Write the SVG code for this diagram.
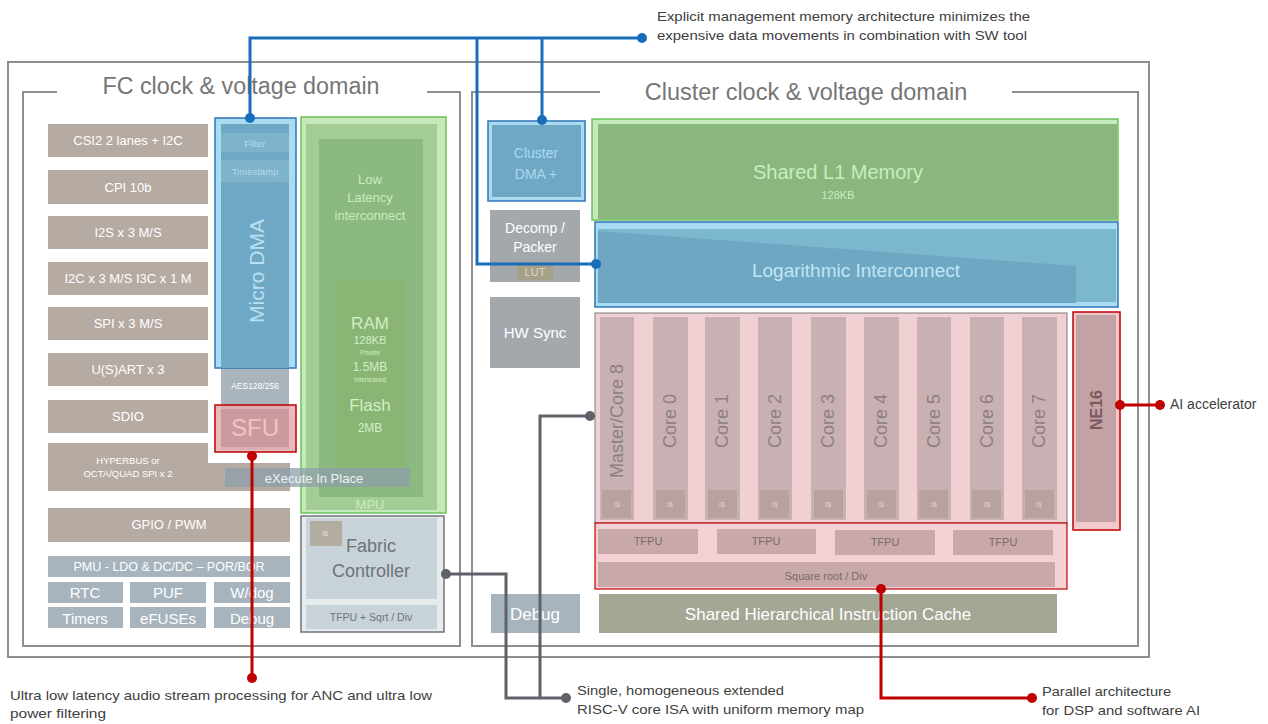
<svg xmlns="http://www.w3.org/2000/svg" width="1268" height="724" viewBox="0 0 1268 724">
<style>
text{font-family:"Liberation Sans",Arial,sans-serif}
.frame{fill:none;stroke:#8f8f8f;stroke-width:2}
.per{fill:#b5aba3}
.bg{fill:#a7b4be}
.gb{fill:#a3a8ad}
.wt{fill:#ffffff;text-anchor:middle}
.ann{fill:#404040;font-size:13px}
.core{fill:#c9b1b3}
.ic{fill:#b9a19f}
.ict{fill:#e6d2d3;font-size:7px;text-anchor:middle}
.cl{fill:#8c8081;font-size:18px;text-anchor:middle}
.tf{fill:#c9a8aa}
.tft{fill:#7a6a6b;font-size:11px;text-anchor:middle}
.bl{fill:none;stroke:#1a6dba;stroke-width:3}
.gr{fill:none;stroke:#5f6369;stroke-width:3}
.rd{fill:none;stroke:#c00000;stroke-width:3}
</style>
<rect width="1268" height="724" fill="#ffffff"/>
<rect class="frame" x="8" y="62" width="1141" height="595"/>
<g id="fc-domain">
<path class="frame" d="M57,92 H23 V646 H460 V92 H427"/>
<text x="241" y="94" font-size="23.3" fill="#767676" text-anchor="middle">FC clock &amp; voltage domain</text>
</g>
<g id="cluster-domain">
<path class="frame" d="M600,92 H472 V646 H1138 V92 H1012"/>
<text x="806" y="100" font-size="23.5" fill="#767676" text-anchor="middle">Cluster clock &amp; voltage domain</text>
</g>
<g id="peripherals" font-size="13">
<g id="csi2"><rect class="per" x="48" y="124" width="160" height="33"/><text class="wt" x="128" y="145">CSI2 2 lanes + I2C</text></g>
<g id="cpi"><rect class="per" x="48" y="170" width="160" height="34"/><text class="wt" x="128" y="192">CPI 10b</text></g>
<g id="i2s"><rect class="per" x="48" y="216" width="160" height="33"/><text class="wt" x="128" y="237">I2S x 3 M/S</text></g>
<g id="i2c"><rect class="per" x="48" y="262" width="160" height="33"/><text class="wt" x="128" y="283">I2C x 3 M/S I3C x 1 M</text></g>
<g id="spi"><rect class="per" x="48" y="307" width="160" height="33"/><text class="wt" x="128" y="328">SPI x 3 M/S</text></g>
<g id="usart"><rect class="per" x="48" y="353" width="160" height="33"/><text class="wt" x="128" y="374">U(S)ART x 3</text></g>
<g id="sdio"><rect class="per" x="48" y="400" width="160" height="33"/><text class="wt" x="128" y="421">SDIO</text></g>
<g id="hyperbus"><polygon class="per" points="48,443 208,443 208,463 290,463 290,491 48,491"/><text class="wt" x="128" y="464" font-size="9.5">HYPERBUS or</text><text class="wt" x="128" y="477" font-size="9.5">OCTA/QUAD SPI x 2</text></g>
<g id="gpio"><rect class="per" x="48" y="508" width="242" height="34"/><text class="wt" x="169" y="529">GPIO / PWM</text></g>
<g id="pmu"><rect class="bg" x="48" y="556" width="242" height="21"/><text class="wt" x="169" y="571" font-size="12.5">PMU - LDO &amp; DC/DC – POR/BOR</text></g>
<g id="rtc"><rect class="bg" x="48" y="582" width="75" height="21"/><text class="wt" x="85" y="598" font-size="15">RTC</text></g>
<g id="puf"><rect class="bg" x="130" y="582" width="76" height="21"/><text class="wt" x="168" y="598" font-size="15">PUF</text></g>
<g id="wdog"><rect class="bg" x="214" y="582" width="76" height="21"/><text class="wt" x="252" y="598" font-size="15">W/dog</text></g>
<g id="timers"><rect class="bg" x="48" y="607" width="75" height="21"/><text class="wt" x="85" y="624" font-size="15">Timers</text></g>
<g id="efuses"><rect class="bg" x="130" y="607" width="76" height="21"/><text class="wt" x="168" y="624" font-size="15">eFUSEs</text></g>
<g id="debug-fc"><rect class="bg" x="214" y="607" width="76" height="21"/><text class="wt" x="252" y="624" font-size="15">Debug</text></g>
</g>
<g id="aes"><rect x="221" y="368" width="68" height="82" fill="#a9b4bd"/><text class="wt" x="255" y="389" font-size="8.5" fill="#eef2f5">AES128/256</text></g>
<g id="micro-dma">
<rect x="215" y="118" width="81" height="250" fill="#a9dcf2" stroke="#2e75b6" stroke-width="1.5"/>
<rect x="221" y="124" width="68" height="244" fill="#6fa8c4"/>
<rect x="221" y="133" width="68" height="19" fill="#7eb3cc"/>
<text x="255" y="147" font-size="9.5" fill="#b3d9ec" text-anchor="middle">Filter</text>
<rect x="221" y="160" width="68" height="22" fill="#7eb3cc"/>
<text x="255" y="175" font-size="9.5" fill="#b3d9ec" text-anchor="middle">Timestamp</text>
<text transform="translate(264,271) rotate(-90)" font-size="21" fill="#b8e0f2" text-anchor="middle">Micro DMA</text>
</g>
<g id="sfu">
<rect x="215" y="405" width="81" height="47" fill="#e4aeb1" fill-opacity="0.85" stroke="#c00000" stroke-width="1.5"/>
<rect x="221" y="409" width="68" height="38" fill="#c99b9e"/>
<text x="255" y="436" font-size="24" fill="#f1c3c6" text-anchor="middle">SFU</text>
</g>
<g id="low-latency-interconnect">
<rect x="301" y="117" width="145" height="396" fill="#c6e9bb" stroke="#6cc05e" stroke-width="1.5"/>
<rect x="306" y="124" width="131" height="386" fill="#a4cd95"/>
<rect x="319" y="139" width="104" height="358" fill="#8cb97f"/>
<text x="370" y="184" font-size="13" fill="#c9ecbf" text-anchor="middle">Low</text>
<text x="370" y="202" font-size="13" fill="#c9ecbf" text-anchor="middle">Latency</text>
<text x="370" y="220" font-size="13" fill="#c9ecbf" text-anchor="middle">interconnect</text>
<text x="370" y="509" font-size="13" fill="#c9ecbf" text-anchor="middle">MPU</text>
</g>
<g id="ram-flash">
<rect x="335" y="280" width="70" height="187" fill="#8ab574"/>
<text x="370" y="329" font-size="17" fill="#d0efc6" text-anchor="middle">RAM</text>
<text x="370" y="344" font-size="11" fill="#d0efc6" text-anchor="middle">128KB</text>
<text x="370" y="355" font-size="6.5" fill="#d0efc6" text-anchor="middle">Private</text>
<text x="370" y="371" font-size="12" fill="#d0efc6" text-anchor="middle">1.5MB</text>
<text x="370" y="382" font-size="6.5" fill="#d0efc6" text-anchor="middle">Interleaved</text>
<text x="370" y="411" font-size="17" fill="#d0efc6" text-anchor="middle">Flash</text>
<text x="370" y="432" font-size="12" fill="#d0efc6" text-anchor="middle">2MB</text>
</g>
<g id="xip">
<rect x="225" y="468" width="185" height="19" fill="#8e9faa" fill-opacity="0.75"/>
<text x="314" y="483" font-size="13" fill="#eef2f5" text-anchor="middle">eXecute In Place</text>
</g>
<g id="fabric-controller">
<rect x="301" y="516" width="143" height="116" fill="#e6ebee" stroke="#6f7479" stroke-width="1.5"/>
<rect x="306" y="518" width="131" height="81" fill="#c8d3d9"/>
<rect x="310" y="521" width="32" height="25" fill="#b3aca0"/>
<text x="322" y="536" font-size="7" fill="#e8e4dc">I$</text>
<text x="371" y="552" font-size="18" fill="#6d7378" text-anchor="middle">Fabric</text>
<text x="371" y="577" font-size="18" fill="#6d7378" text-anchor="middle">Controller</text>
<rect x="306" y="605" width="131" height="24" fill="#c8d3d9"/>
<text x="371" y="621" font-size="10.5" fill="#6d7378" text-anchor="middle">TFPU + Sqrt / Div</text>
</g>
<g id="cluster-dma">
<rect x="488" y="121" width="97" height="80" fill="#a9dcf2" stroke="#2e75b6" stroke-width="1.5"/>
<rect x="492" y="125" width="89" height="72" fill="#6fa8c4"/>
<text x="536" y="158" font-size="14" fill="#a9d8ef" text-anchor="middle">Cluster</text>
<text x="536" y="179" font-size="14" fill="#a9d8ef" text-anchor="middle">DMA +</text>
</g>
<g id="decomp">
<rect class="gb" x="490" y="210" width="90" height="72"/>
<rect x="517" y="262" width="36" height="18" fill="#a5a189"/>
<text x="535" y="276" font-size="11" fill="#ddd8c0" text-anchor="middle">LUT</text>
<text class="wt" x="535" y="233" font-size="14">Decomp /</text>
<text class="wt" x="535" y="252" font-size="14">Packer</text>
</g>
<g id="hw-sync"><rect class="gb" x="490" y="297" width="90" height="71"/><text class="wt" x="535" y="338" font-size="15">HW Sync</text></g>
<g id="debug"><rect class="bg" x="491" y="594" width="89" height="39"/><text class="wt" x="535" y="620" font-size="17">Debug</text></g>
<g id="shared-l1">
<rect x="592" y="119" width="526" height="101" fill="#c6e9bb" stroke="#6cc05e" stroke-width="1.5"/>
<rect x="598" y="124" width="519" height="95" fill="#8bb77e"/>
<text x="838" y="179" font-size="20" fill="#c9ecbf" text-anchor="middle">Shared L1 Memory</text>
<text x="838" y="199" font-size="11" fill="#c9ecbf" text-anchor="middle">128KB</text>
</g>
<g id="log-interconnect">
<rect x="595" y="222" width="523" height="85" fill="#a9dcf2" stroke="#2e75b6" stroke-width="1.5"/>
<rect x="598" y="229" width="518" height="73" fill="#7bb8d0"/>
<polygon points="598,231 1076,266 1076,303 598,303" fill="#6ea7c2"/>
<text x="856" y="277" font-size="19" fill="#c0e6f5" text-anchor="middle">Logarithmic Interconnect</text>
</g>
<g id="cores">
<rect x="595" y="313" width="472" height="210" fill="#f0d0d2" stroke="#7a7a7a" stroke-width="1"/>
<g id="core-master"><rect class="core" x="600" y="317" width="34" height="203"/><rect class="ic" x="602" y="490" width="29" height="28"/><text class="ict" x="617" y="507">I$</text><text class="cl" transform="translate(623,421) rotate(-90)">Master/Core 8</text></g>
<g id="core0"><rect class="core" x="653" y="317" width="35" height="203"/><rect class="ic" x="656" y="490" width="29" height="28"/><text class="ict" x="670" y="507">I$</text><text class="cl" transform="translate(676,421) rotate(-90)">Core 0</text></g>
<g id="core1"><rect class="core" x="705" y="317" width="35" height="203"/><rect class="ic" x="708" y="490" width="29" height="28"/><text class="ict" x="722" y="507">I$</text><text class="cl" transform="translate(728,421) rotate(-90)">Core 1</text></g>
<g id="core2"><rect class="core" x="758" y="317" width="34" height="203"/><rect class="ic" x="760" y="490" width="29" height="28"/><text class="ict" x="775" y="507">I$</text><text class="cl" transform="translate(781,421) rotate(-90)">Core 2</text></g>
<g id="core3"><rect class="core" x="811" y="317" width="35" height="203"/><rect class="ic" x="814" y="490" width="29" height="28"/><text class="ict" x="828" y="507">I$</text><text class="cl" transform="translate(834,421) rotate(-90)">Core 3</text></g>
<g id="core4"><rect class="core" x="864" y="317" width="35" height="203"/><rect class="ic" x="867" y="490" width="29" height="28"/><text class="ict" x="881" y="507">I$</text><text class="cl" transform="translate(887,421) rotate(-90)">Core 4</text></g>
<g id="core5"><rect class="core" x="917" y="317" width="34" height="203"/><rect class="ic" x="919" y="490" width="29" height="28"/><text class="ict" x="934" y="507">I$</text><text class="cl" transform="translate(940,421) rotate(-90)">Core 5</text></g>
<g id="core6"><rect class="core" x="970" y="317" width="34" height="203"/><rect class="ic" x="972" y="490" width="29" height="28"/><text class="ict" x="987" y="507">I$</text><text class="cl" transform="translate(993,421) rotate(-90)">Core 6</text></g>
<g id="core7"><rect class="core" x="1022" y="317" width="35" height="203"/><rect class="ic" x="1025" y="490" width="29" height="28"/><text class="ict" x="1039" y="507">I$</text><text class="cl" transform="translate(1045,421) rotate(-90)">Core 7</text></g>
</g>
<g id="tfpu-block">
<rect x="595" y="523" width="472" height="66" fill="#f3d0d3" stroke="#c00000" stroke-width="1.2"/>
<rect class="tf" x="598" y="529" width="100" height="25"/><text class="tft" x="648" y="545">TFPU</text>
<rect class="tf" x="717" y="529" width="99" height="25"/><text class="tft" x="766" y="545">TFPU</text>
<rect class="tf" x="835" y="530" width="100" height="25"/><text class="tft" x="885" y="546">TFPU</text>
<rect class="tf" x="953" y="530" width="100" height="25"/><text class="tft" x="1003" y="546">TFPU</text>
<rect class="tf" x="598" y="562" width="457" height="25"/><text class="tft" x="826" y="580">Square root / Div</text>
</g>
<g id="ne16">
<rect x="1073" y="312" width="47" height="218" fill="#f2c9cc" stroke="#c00000" stroke-width="1.5"/>
<rect x="1076" y="315" width="40" height="207" fill="#c3a2a5"/>
<text transform="translate(1102,410) rotate(-90)" font-size="16" font-weight="bold" fill="#7a5a5e" text-anchor="middle">NE16</text>
</g>
<g id="icache"><rect x="599" y="594" width="458" height="39" fill="#a5a795"/><text class="wt" x="828" y="620" font-size="17">Shared Hierarchical Instruction Cache</text></g>
<g id="connectors">
<path class="bl" d="M250,118 V38 H642"/>
<path class="bl" d="M477,38 V264 H596"/>
<path class="bl" d="M542,38 V120"/>
<g fill="#1a6dba"><circle cx="250" cy="118" r="5"/><circle cx="596" cy="264" r="5"/><circle cx="542" cy="120" r="5"/><circle cx="642" cy="38" r="5"/></g>
<path class="gr" d="M446,574 H506 V698 H566"/>
<path class="gr" d="M590,416 H540 V698"/>
<g fill="#5f6369"><circle cx="446" cy="574" r="5"/><circle cx="590" cy="416" r="5"/><circle cx="566" cy="698" r="5"/></g>
<path class="rd" d="M252,456 V678"/>
<path class="rd" d="M1120,405 H1160"/>
<path class="rd" d="M881,589 V698 H1032"/>
<g fill="#c00000"><circle cx="252" cy="456" r="5"/><circle cx="252" cy="678" r="5"/><circle cx="1120" cy="405" r="5"/><circle cx="1160" cy="405" r="5"/><circle cx="881" cy="589" r="5"/><circle cx="1032" cy="698" r="5"/></g>
</g>
<g id="annotations">
<text class="ann" x="657" y="21" textLength="373" lengthAdjust="spacingAndGlyphs">Explicit management memory architecture minimizes the</text>
<text class="ann" x="657" y="40" textLength="370" lengthAdjust="spacingAndGlyphs">expensive data movements in combination  with SW tool</text>
<text class="ann" x="10" y="700" textLength="422" lengthAdjust="spacingAndGlyphs">Ultra low latency audio stream processing for ANC and ultra low</text>
<text class="ann" x="10" y="718" textLength="96" lengthAdjust="spacingAndGlyphs">power filtering</text>
<text class="ann" x="577" y="695" textLength="207" lengthAdjust="spacingAndGlyphs">Single, homogeneous  extended</text>
<text class="ann" x="577" y="714" textLength="287" lengthAdjust="spacingAndGlyphs">RISC-V  core ISA with uniform  memory map</text>
<text class="ann" x="1042" y="696" textLength="129" lengthAdjust="spacingAndGlyphs">Parallel architecture</text>
<text class="ann" x="1042" y="715" textLength="158" lengthAdjust="spacingAndGlyphs">for DSP and software AI</text>
<text x="1170" y="409" font-size="14" fill="#404040">AI accelerator</text>
</g>
</svg>
